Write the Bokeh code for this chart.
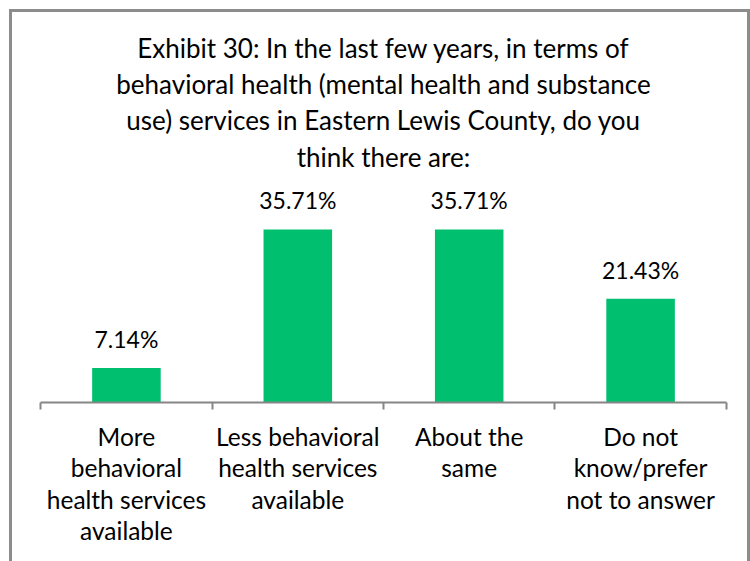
from bokeh.plotting import figure
from bokeh.models import Range1d, LinearAxis, FixedTicker, ColumnDataSource
from bokeh.core.properties import value
from bokeh.embed import file_html
from bokeh.resources import INLINE

# ---- data ----
title_lines = [
    "Exhibit 30: In the last few years, in terms of",
    "behavioral health (mental health and substance",
    "use) services in Eastern Lewis County, do you",
    "think there are:",
]
categories = [
    "More\nbehavioral\nhealth services\navailable",
    "Less behavioral\nhealth services\navailable",
    "About the\nsame",
    "Do not\nknow/prefer\nnot to answer",
]
values = [7.14, 35.71, 35.71, 21.43]
value_labels = [f"{v:.2f}%" for v in values]

# ---- layout ----
W, H = 741, 552
CW = 735              # canvas width (inside the 3px side borders)
FRAME_H = 552         # frame height
STEP = 170.0          # px per category
PXU = 4.845           # px per percentage point
AXIS_PX = 390         # canvas y of the baseline
n = len(categories)
positions = list(range(n))
boundaries = [i - 0.5 for i in range(n + 1)]

src = ColumnDataSource(dict(x=positions, top=values, lab=value_labels,
                            cat=categories, base=[0] * n))
title_src = ColumnDataSource(dict(x=[(n - 1) / 2], text=["\n".join(title_lines)]))

y_end = AXIS_PX / PXU
y_start = -(FRAME_H - AXIS_PX) / PXU

p = figure(width=W, height=H, output_backend="svg", toolbar_location=None,
           x_range=Range1d(-0.5 - 28 / STEP, n - 0.5 + (CW - 28 - n * STEP) / STEP),
           y_range=Range1d(y_start, y_end),
           x_axis_type=None, y_axis_type=None,
           min_border_left=0, min_border_right=0,
           min_border_top=0, min_border_bottom=0)
p.outline_line_color = None
p.background_fill_color = "white"
p.border_fill_color = "white"
p.styles = {"border-left": "3px solid #8c8c8c", "border-top": "3px solid #8c8c8c",
            "border-right": "3px solid #8c8c8c", "margin-left": "9px",
            "position": "relative", "top": "9px", "margin-bottom": "-9px"}

ax = LinearAxis(fixed_location=0, ticker=FixedTicker(ticks=boundaries),
                bounds=(boundaries[0], boundaries[-1]),
                major_tick_out=7, major_tick_in=0,
                minor_tick_out=0, minor_tick_in=0,
                axis_line_color="#868686", axis_line_width=2,
                major_tick_line_color="#868686", major_tick_line_width=2,
                major_label_overrides={b: "" for b in boundaries},
                major_label_text_font_size="0px", major_label_standoff=0)
p.add_layout(ax, "below")

# title (centered lines)
p.text(x="x", y=y_end, text="text", source=title_src, text_align="center",
       text_baseline="top", y_offset=19, text_line_height=1.14,
       text_font=value("Lato"), text_font_size="26px", text_color="#000000")

p.vbar(x="x", top="top", bottom=0, width=0.4, source=src,
       fill_color="#00bf6f", line_color=None)

p.text(x="x", y="top", text="lab", source=src, text_align="center",
       text_baseline="middle", y_offset=-29, text_font=value("Lato"),
       text_font_size="23px", text_color="#000000")

p.text(x="x", y="base", text="cat", source=src, text_align="center",
       text_baseline="top", y_offset=19, text_line_height=1.09,
       text_font=value("Lato"), text_font_size="24.5px", text_color="#000000")

open("out.html", "w").write(file_html(p, INLINE))
